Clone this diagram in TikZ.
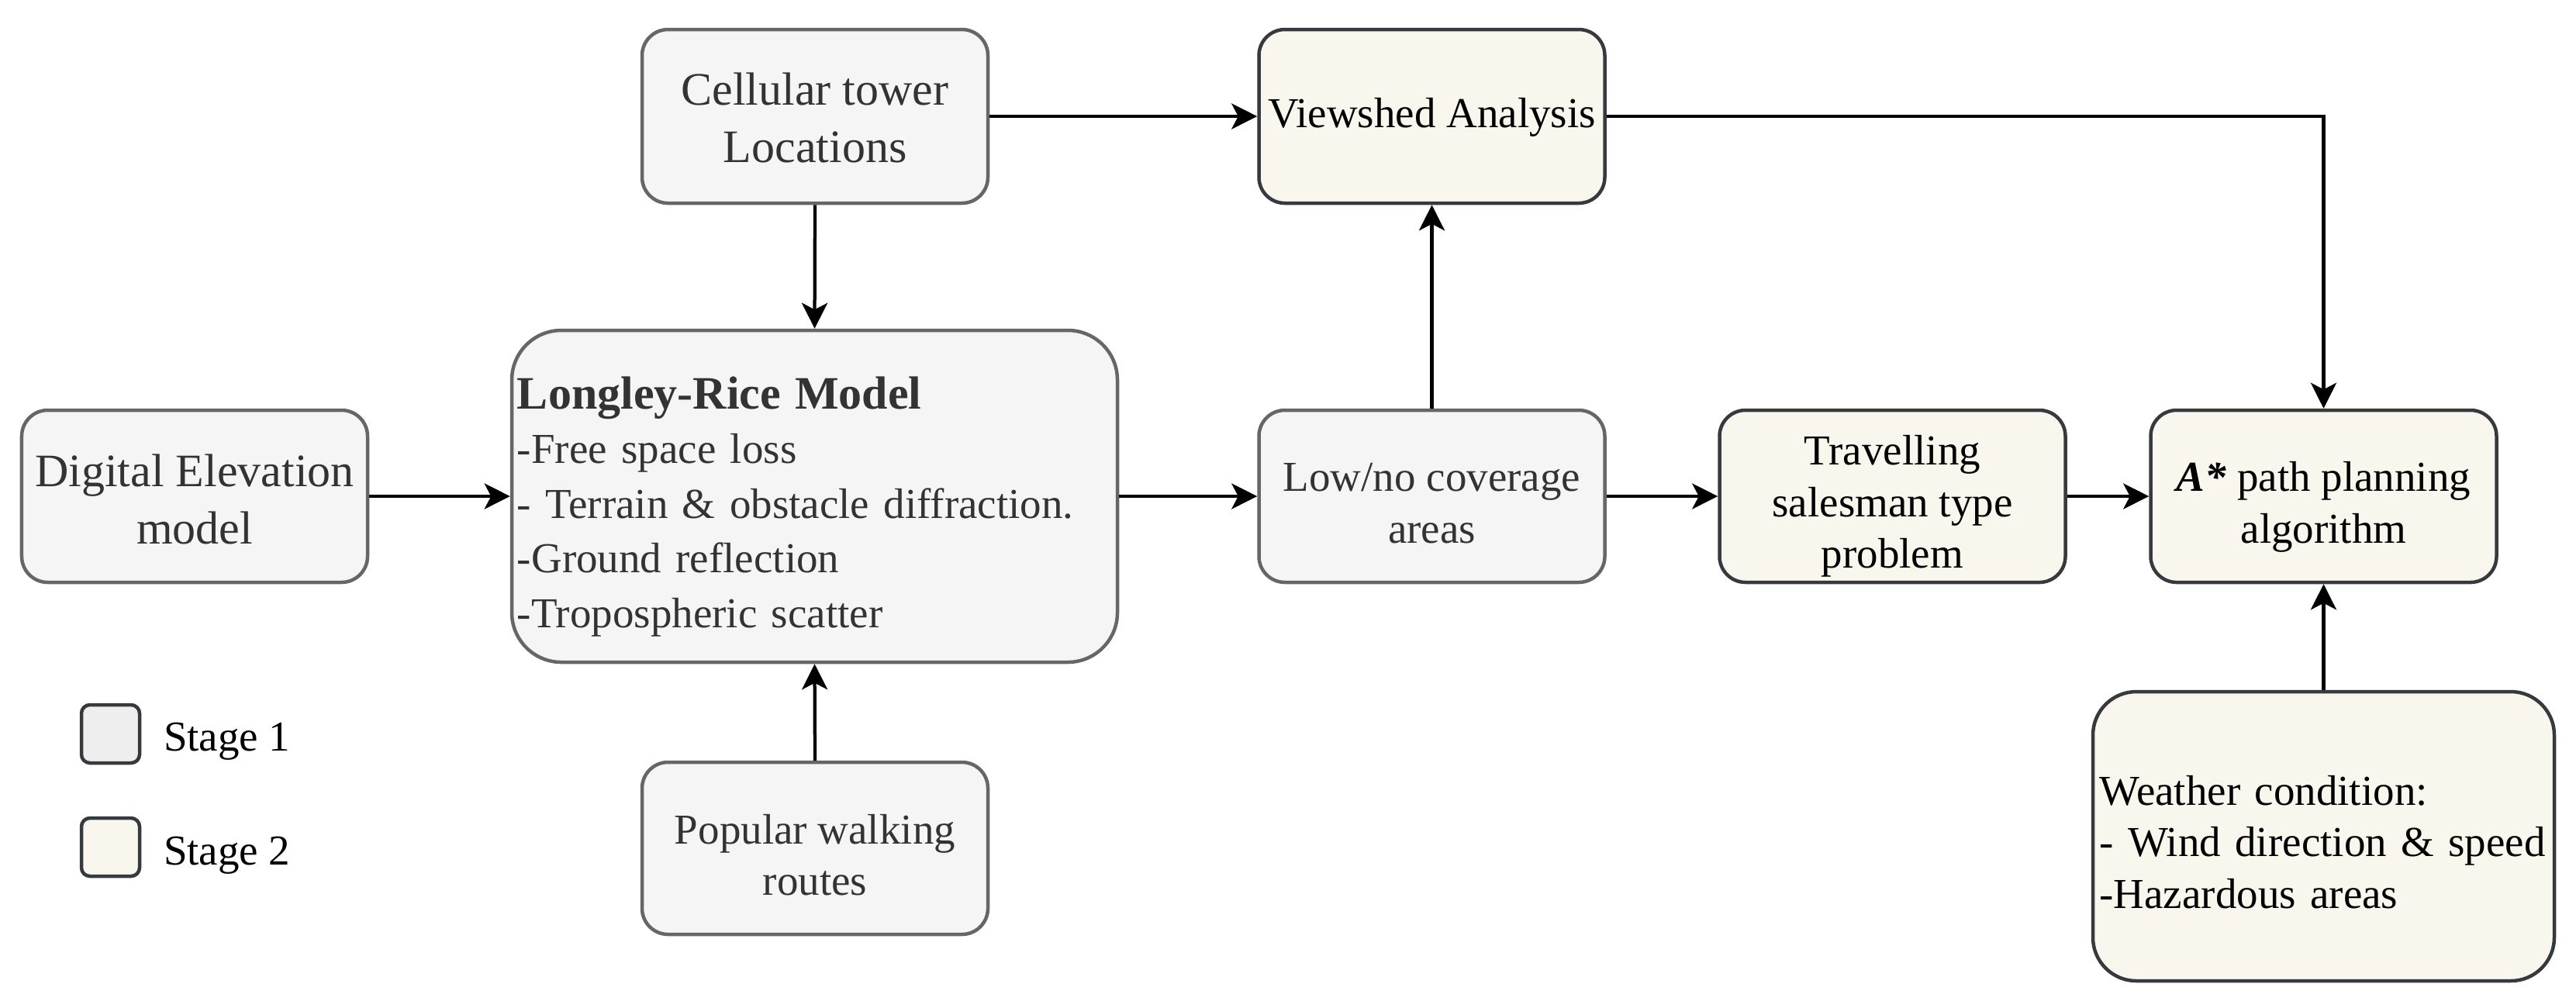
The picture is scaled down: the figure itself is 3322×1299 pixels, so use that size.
\documentclass[tikz,border=0pt]{standalone}
\usepackage{fontspec}
\setmainfont{Liberation Serif}
\usetikzlibrary{arrows.meta}
\definecolor{gfill}{HTML}{F5F5F5}
\definecolor{gline}{HTML}{666666}
\definecolor{gtext}{HTML}{333333}
\definecolor{bfill}{HTML}{F9F7ED}
\definecolor{bline}{HTML}{36393D}
\definecolor{lfill}{HTML}{EEEEEE}
\begin{document}
\begin{tikzpicture}[x=0.2pt,y=-0.2pt,
  box/.style={draw, line width=0.9pt, rounded corners=6.7pt, minimum width=89.2pt, minimum height=44.8pt, inner sep=0pt},
  gbox/.style={box, fill=gfill, draw=gline},
  bbox/.style={box, fill=bfill, draw=bline},
  txt/.style={inner sep=0pt, align=center},
  gtxt/.style={txt, text=gtext},
  btxt/.style={txt, text=black},
  f12/.style={font=\fontsize{12}{14.8}\selectfont},
  f11/.style={font=\fontsize{11}{13.3}\selectfont},
  arr/.style={-{Stealth[length=6.6pt,width=6.6pt,inset=1.7pt]}, line width=0.85pt, black},
]
\useasboundingbox (0,0) rectangle (3322,1299);

% boxes
\node[gbox] (cell) at (1051,150) {};
\node[bbox] (view) at (1846.5,150) {};
\node[gbox,minimum height=44.4pt] (dem) at (251,640) {};
\node[gbox, minimum width=156.2pt, minimum height=85.6pt, rounded corners=12.8pt] (lr) at (1050.5,640) {};
\node[gbox,minimum height=44.4pt] (low) at (1846.5,640) {};
\node[bbox,minimum height=44.4pt] (tsp) at (2440.5,640) {};
\node[bbox,minimum height=44.4pt] (astar) at (2996.5,640) {};
\node[bbox, minimum width=119pt, minimum height=74.6pt, rounded corners=11.2pt] (wx) at (2996.5,1078.5) {};
\node[gbox,minimum height=44.4pt] (pop) at (1051,1094) {};
\node[box, fill=lfill, draw=bline, minimum width=15pt, minimum height=15pt, rounded corners=2.2pt] (l1) at (142.5,946.5) {};
\node[box, fill=bfill, draw=bline, minimum width=15pt, minimum height=15pt, rounded corners=2.2pt] (l2) at (142.5,1092.5) {};

% texts
\node[gtxt,f12] (cellt) at ([yshift=-0.3pt]cell.center) {Cellular tower\\Locations};
\node[btxt,f11] (viewt) at ([yshift=-0.3pt]view.center) {Viewshed Analysis};
\node[gtxt,f12] (demt) at ([yshift=-0.8pt]dem.center) {Digital Elevation\\model};
\node[gtxt, text width=154.2pt, align=left, font=\fontsize{11}{14.1}\selectfont] (lrt) at ([xshift=0.4pt,yshift=-2.7pt]lr.center)
  {{\fontsize{12}{14.1}\selectfont\bfseries Longley-Rice Model}\\-Free space loss\\- Terrain \& obstacle diffraction.\\-Ground reflection\\-Tropospheric scatter};
\node[gtxt,f11] (lowt) at ([yshift=-1.8pt]low.center) {Low/no coverage\\areas};
\node[btxt,f11] (tspt) at ([yshift=-2.6pt]tsp.center) {Travelling\\salesman type\\problem};
\node[btxt,f11] (astart) at ([yshift=-2.8pt]astar.center) {\textbf{\textit{A*}} path planning\\algorithm};
\node[btxt, text width=116pt, align=left, f11] (wxt) at ([xshift=0.2pt,yshift=-1.5pt]wx.center)
  {Weather condition:\\- Wind direction \& speed\\-Hazardous areas};
\node[gtxt,f11] (popt) at ([yshift=-1.7pt]pop.center) {Popular walking\\routes};
\node[anchor=base west, f11, inner sep=0pt] (t1) at (210,968) {Stage 1};
\node[anchor=base west, f11, inner sep=0pt] (t2) at (210,1115) {Stage 2};

% connectors
\draw[arr] (cell.east) -- (view.west);
\draw[arr] (cell.south) -- (lr.north);
\draw[arr] (dem.east) -- (lr.west);
\draw[arr] (lr.east) -- (low.west);
\draw[arr] (low.north) -- (view.south);
\draw[arr] (low.east) -- (tsp.west);
\draw[arr] (tsp.east) -- (astar.west);
\draw[arr] (view.east) -| (astar.north);
\draw[arr] (wx.north) -- (astar.south);
\draw[arr] (pop.north) -- (lr.south);
\end{tikzpicture}
\end{document}
